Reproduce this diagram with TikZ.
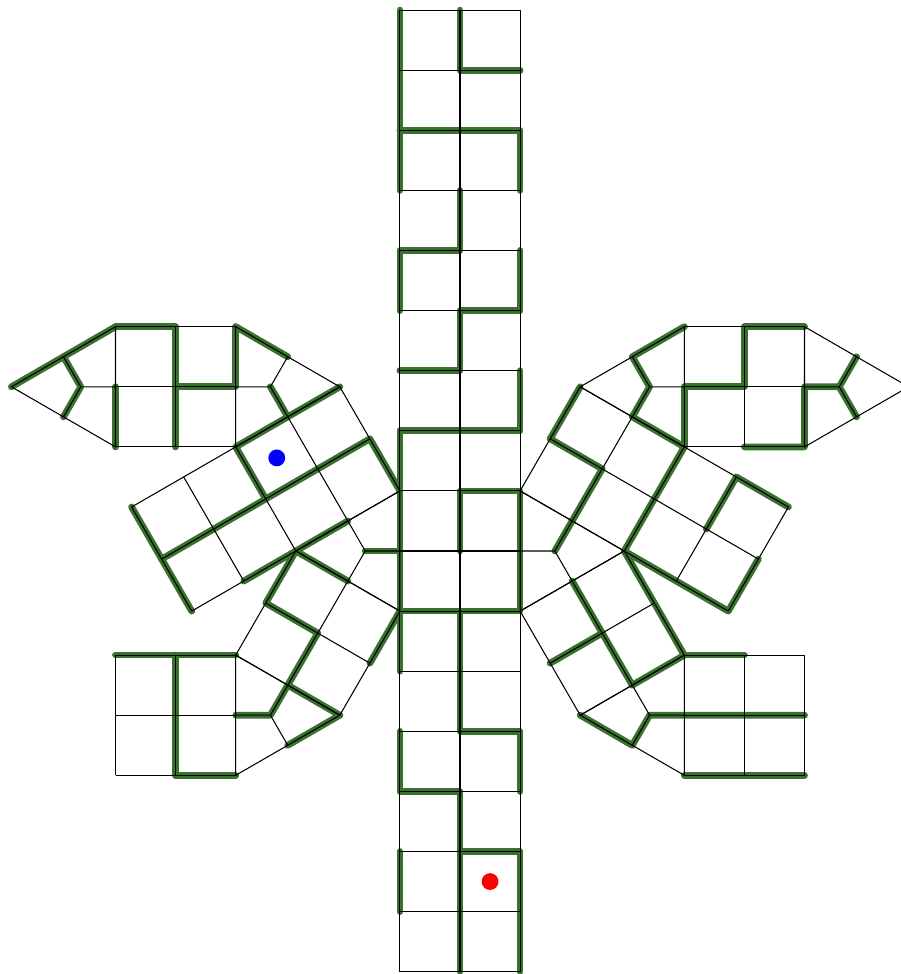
\documentclass[tikz,border=0pt]{standalone}
\usepackage{tikz}
\usetikzlibrary{calc,backgrounds}
\definecolor{wallgreen}{RGB}{58,112,48}
\newcommand\rthree{1.7320508}
% a 2x2 subdivided face: name, origin, direction i, direction j, last i
\newcommand\quadblock[5]{%
	\foreach \i in {0,...,#5}{%
		\foreach \j in {0,1,2}{%
			\coordinate (#1\i\j) at ($#2+(#3:\i)+(#4:\j)$);
		}%
	}%
	\foreach \j in {0,1,2}{\draw[mesh] (#10\j)--(#1#5\j);}%
	\foreach \i in {0,...,#5}{\draw[mesh] (#1\i0)--(#1\i2);}%
}
% a triangle cut in three quads
\newcommand\splittri[4]{%
	\coordinate (#1g) at (barycentric cs:#2=1,#3=1,#4=1);
	\coordinate (#1ab) at ($(#2)!.5!(#3)$);
	\coordinate (#1bc) at ($(#3)!.5!(#4)$);
	\coordinate (#1ca) at ($(#4)!.5!(#2)$);
	\draw[mesh] (#2)--(#3)--(#4)--cycle (#1ab)--(#1g)--(#1bc) (#1g)--(#1ca);
}

\begin{document}
\begin{tikzpicture}[x=1cm,y=1cm,
	mesh/.style={line width=0.5pt},
	wall/.style={draw=wallgreen,line width=3.2pt,line cap=round,line join=round},
	dot/.style={circle,inner sep=0pt,minimum size=0.28cm}]
	\useasboundingbox (-7.654,-7.038) rectangle (7.321,9.168);
	\draw[mesh] (-1,-7) grid (1,9);
	\quadblock{L}{(-1,1)}{210}{120}{4}
	\quadblock{R}{(1,1)}{330}{60}{4}
	\quadblock{K}{(-1,-1)}{150}{240}{2}
	\quadblock{S}{(1,-1)}{30}{300}{2}
	\quadblock{U}{({-4-\rthree},\rthree)}{0}{90}{2}
	\quadblock{V}{({-4-\rthree},{-2-\rthree})}{0}{90}{2}
	\quadblock{W}{({2+\rthree},\rthree)}{0}{90}{2}
	\quadblock{Z}{({2+\rthree},{-2-\rthree})}{0}{90}{2}
	\coordinate (tipL) at ({-4-2*\rthree},{1+\rthree});
	\coordinate (tipR) at ({4+2*\rthree},{1+\rthree});
	\splittri{tl}{L00}{K00}{L20}
	\splittri{tr}{R00}{S00}{R20}
	\splittri{tll}{K22}{K02}{V20}
	\splittri{tlr}{S22}{S02}{Z00}
	\splittri{tul}{L22}{L02}{U22}
	\splittri{tur}{R22}{R02}{W02}
	\splittri{tipl}{U02}{U00}{tipL}
	\splittri{tipr}{W22}{W20}{tipR}
	\begin{scope}[on background layer]
		% strip
		\draw[wall] (-1,9)--(-1,6);
		\draw[wall] (0,9)--(0,8)--(1,8);
		\draw[wall] (-1,7)--(1,7)--(1,6);
		\draw[wall] (0,6)--(0,5)--(-1,5)--(-1,4);
		\draw[wall] (1,5)--(1,4)--(0,4)--(0,3)--(-1,3);
		\draw[wall] (1,3)--(1,2)--(-1,2)--(-1,-2);
		\draw[wall] (0,0)--(0,1)--(1,1)--(1,-1)--(-1,-1);
		\draw[wall] (0,-1)--(0,-3)--(1,-3)--(1,-4);
		\draw[wall] (-1,-3)--(-1,-4)--(0,-4)--(0,-7);
		\draw[wall] (0,-5)--(1,-5)--(1,-7);
		\draw[wall] (-1,-5)--(-1,-6);
		% left
		\draw[wall] (tlab)--(tlg);
		\draw[wall] (L00)--(L01)--(L41);
		\draw[wall] (L02)--(L22)--(L21);
		\draw[wall] (L10)--(L30);
		\draw[wall] (L40)--(L42);
		\draw[wall] (K10)--(K20)--(K21)--(K11)--(K12)--(K02);
		\draw[wall] (K00)--(K01);
		\draw[wall] (K12)--(tllg)--(V21);
		\draw[wall] (tllbc)--(K02);
		\draw[wall] (V02)--(V22);
		\draw[wall] (V12)--(V10)--(V20);
		\draw[wall] (tulg)--(L12);
		\draw[wall] (U22)--(tulbc);
		\draw[wall] (U02)--(U12)--(U10);
		\draw[wall] (U11)--(U21)--(U22);
		\draw[wall] (U00)--(U01);
		\draw[wall] (U02)--(tipL);
		\draw[wall] (tiplca)--(tiplg)--(tiplbc);
		% right
		\draw[wall] (R02)--(R01)--(R11)--(R10)--(trg);
		\draw[wall] (W02)--(turbc)--(turg)--(R12)--(R22)--(R20)--(R40)--(R41);
		\draw[wall] (R31)--(R32)--(R42);
		\draw[wall] (S01)--(S11);
		\draw[wall] (S10)--(S12)--(S22)--(S20);
		\draw[wall] (S22)--(Z12);
		\draw[wall] (S02)--(tlrbc)--(tlrg)--(Z01)--(Z21);
		\draw[wall] (Z00)--(Z20);
		\draw[wall] (W00)--(W01)--(W11)--(W12)--(W22);
		\draw[wall] (W10)--(W20)--(W21)--(tiprg);
		\draw[wall] (tiprca)--(tiprg)--(tiprbc);
	\end{scope}
	\node[dot,fill=blue] (start) at ($(L11)!.5!(L22)$) {};
	\node[dot,fill=red] (goal) at (0.5,-5.5) {};
\end{tikzpicture}
\end{document}
